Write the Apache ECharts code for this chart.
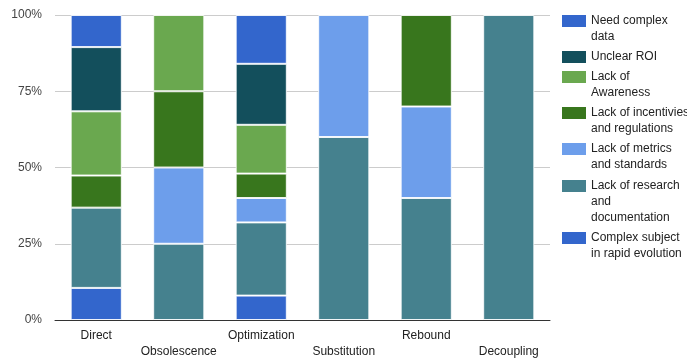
<!DOCTYPE html>
<html>
<head>
<meta charset="utf-8">
<script src="https://cdn.jsdelivr.net/npm/echarts@6/dist/echarts.min.js"></script>
<style>
  html, body { margin: 0; padding: 0; background: #fff; }
  #chart { width: 687px; height: 360px; }
</style>
</head>
<body>
<div id="chart"></div>
<script>
// Categories along the x axis
const categories = ['Direct', 'Obsolescence', 'Optimization', 'Substitution', 'Rebound', 'Decoupling'];

// Response counts per barrier, listed bottom-to-top of each stack
const complexSubject   = [2, 0, 2, 0, 0, 0];
const lackResearch     = [5, 1, 6, 3, 4, 1];
const lackMetrics      = [0, 1, 2, 2, 3, 0];
const lackIncentives   = [2, 1, 2, 0, 3, 0];
const lackAwareness    = [4, 1, 4, 0, 0, 0];
const unclearROI       = [4, 0, 5, 0, 0, 0];
const needComplexData  = [2, 0, 4, 0, 0, 0];

const yTicks = ['0%', '25%', '50%', '75%', '100%'];

// Series definitions (stack order bottom -> top)
const seriesDefs = [
  { name: 'Complex subject\nin rapid evolution', values: complexSubject,  color: '#3366cc' },
  { name: 'Lack of research\nand\ndocumentation', values: lackResearch,   color: '#45818e' },
  { name: 'Lack of metrics\nand standards',      values: lackMetrics,     color: '#6d9eeb' },
  { name: 'Lack of incentivies\nand regulations', values: lackIncentives, color: '#38761d' },
  { name: 'Lack of\nAwareness',                  values: lackAwareness,   color: '#6aa84f' },
  { name: 'Unclear ROI',                         values: unclearROI,      color: '#134f5c' },
  { name: 'Need complex\ndata',                  values: needComplexData, color: '#3366cc' }
];

// Column totals for the 100% stacking
const totals = categories.map((_, i) => seriesDefs.reduce((s, d) => s + d.values[i], 0));

const FONT = '"Liberation Sans", Arial, sans-serif';
const LINE = 16;

// One legend block per series, top-down; the swatch sits beside the first text line
const legendTops = [13, 49, 69, 105, 141, 178, 230];
const legendOrder = seriesDefs.slice().reverse();
const legends = legendOrder.map((d, k) => {
  const lines = d.name.split('\n').length;
  const h = lines * LINE;
  // swatch drawn in the top row of a box as tall as the text block
  const icon = 'path://M0,0L0,0M0,2L24,2L24,14L0,14Z' + 'M24,' + h + 'L24,' + h;
  return {
    left: 562,
    top: legendTops[k],
    orient: 'vertical',
    selectedMode: false,
    itemWidth: 24,
    itemHeight: h,
    itemGap: 0,
    padding: 0,
    icon: icon,
    itemStyle: { borderWidth: 0 },
    data: [d.name],
    textStyle: {
      fontFamily: FONT,
      fontSize: 12,
      color: '#222',
      lineHeight: LINE
    }
  };
});

const chart = echarts.init(document.getElementById('chart'), null, { renderer: 'canvas' });

chart.setOption({
  animation: false,
  textStyle: { fontFamily: FONT },
  legend: legends,
  grid: { left: 55, right: 137, top: 15, bottom: 40, containLabel: false },
  xAxis: {
    type: 'category',
    data: categories,
    axisLine: { show: true, lineStyle: { color: '#333', width: 1 } },
    axisTick: { show: false },
    axisLabel: {
      interval: 0,
      margin: 8,
      fontFamily: FONT,
      fontSize: 12,
      color: '#222',
      lineHeight: LINE,
      formatter: (v, i) => (i % 2 ? '\n' + v : v)
    }
  },
  yAxis: {
    type: 'value',
    min: 0,
    max: 100,
    interval: 25,
    axisLine: { show: false },
    axisTick: { show: false },
    splitLine: { lineStyle: { color: '#cccccc', width: 1 } },
    axisLabel: {
      margin: 13,
      fontFamily: FONT,
      fontSize: 12,
      color: '#444',
      formatter: (v) => yTicks[Math.round(v / 25)]
    }
  },
  series: seriesDefs.map(d => ({
    name: d.name,
    type: 'bar',
    stack: 'share',
    barWidth: '62%',
    itemStyle: { color: d.color, borderColor: 'rgba(255,255,255,0.85)', borderWidth: 1 },
    emphasis: { disabled: true },
    data: d.values.map((v, i) => (v === 0 ? '-' : v / totals[i] * 100))
  }))
});
</script>
</body>
</html>
